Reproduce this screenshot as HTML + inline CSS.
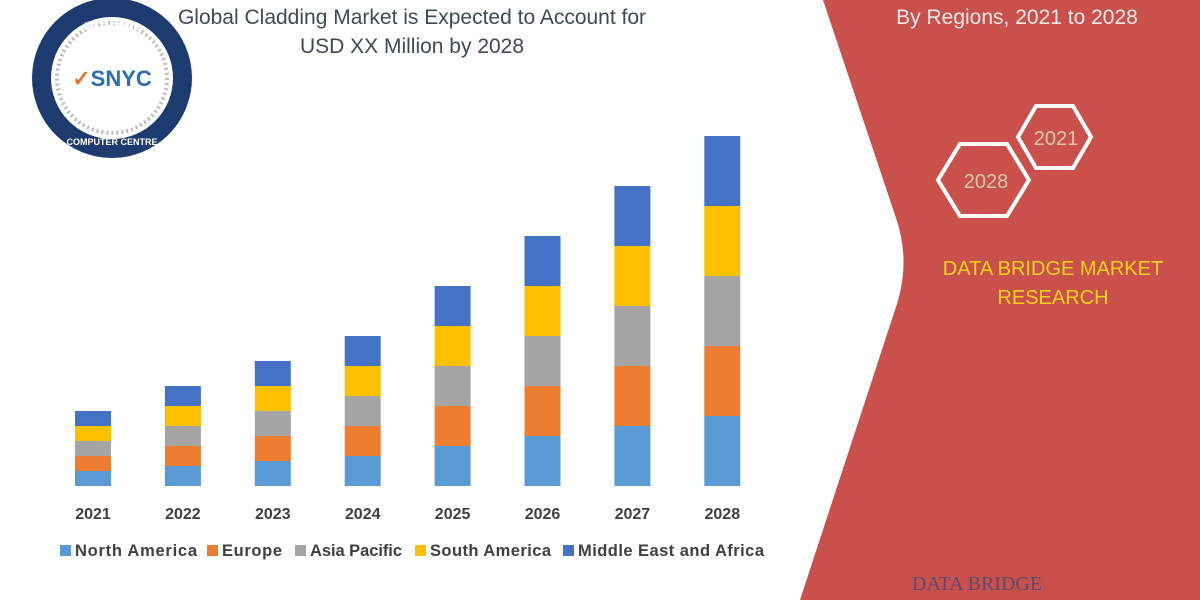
<!DOCTYPE html>
<html><head><meta charset="utf-8"><style>
body{margin:0;width:1200px;height:600px;overflow:hidden;background:#fff;font-family:"Liberation Sans",sans-serif}
svg{display:block}
</style></head><body>
<svg width="1200" height="600" viewBox="0 0 1200 600">
<path d="M823,0 L895,215 Q912,262 895,310 L800,600 L1200,600 L1200,0 Z" fill="#c9504b"/>
<text x="1017" y="24" text-anchor="middle" font-size="21" fill="#f5e9e6">By Regions, 2021 to 2028</text>
<polygon points="1018,137 1036,106 1073,106 1091,137 1073,168 1036,168" fill="none" stroke="#fff" stroke-width="4"/>
<text x="1056" y="145" text-anchor="middle" font-size="20" fill="#d8c7a6">2021</text>
<polygon points="938,180 960,144 1007,144 1029,180 1007,216 960,216" fill="none" stroke="#fff" stroke-width="4"/>
<text x="986" y="188" text-anchor="middle" font-size="20" fill="#d8c7a6">2028</text>
<text x="1053" y="275" text-anchor="middle" font-size="20" fill="#f7d21a">DATA BRIDGE MARKET</text>
<text x="1053" y="304" text-anchor="middle" font-size="20" fill="#f7d21a">RESEARCH</text>
<text x="912" y="590" font-size="20" fill="#5a4a70" font-family="Liberation Serif,serif">DATA BRIDGE</text>
<text x="412" y="24" text-anchor="middle" font-size="21" fill="#3e4a5a">Global Cladding Market is Expected to Account for</text>
<text x="412" y="53" text-anchor="middle" font-size="21" fill="#3e4a5a">USD XX Million by 2028</text>
<g>
<circle cx="112" cy="78" r="80" fill="#1c3b6e"/>
<circle cx="112" cy="78" r="61" fill="#fff"/>
<circle cx="112" cy="78" r="55" fill="none" stroke="#bbb" stroke-width="4" stroke-dasharray="2 3"/>
<text x="112" y="86" text-anchor="middle" font-size="22" font-weight="bold" fill="#e8762a">✓<tspan fill="#2a6fb0">SNYC</tspan></text>
<text x="112" y="30" text-anchor="middle" font-size="11" font-weight="bold" fill="#fff">NATIONAL</text>
<text x="112" y="145" text-anchor="middle" font-size="9" font-weight="bold" fill="#fff">COMPUTER CENTRE</text>
</g>
<g id="bars"></g>
<g id="xlabels"></g>
<g id="legend"></g>
</svg>
<script>
const years=["2021","2022","2023","2024","2025","2026","2027","2028"];
const northAmerica=[15,20,25,30,40,50,60,70];
const europe=[15,20,25,30,40,50,60,70];
const asiaPacific=[15,20,25,30,40,50,60,70];
const southAmerica=[15,20,25,30,40,50,60,70];
const mea=[15,20,25,30,40,50,60,70];
const seriesNames=["North America","Europe","Asia Pacific","South America","Middle East and Africa"];
const colors=["#5b9bd5","#ed7d31","#a5a5a5","#ffc000","#4472c4"];
const series=[northAmerica,europe,asiaPacific,southAmerica,mea];
const NS="http://www.w3.org/2000/svg";
const x0=93,step=89.9,bw=36,base=486,scale=1;
const xPos=i=>x0+i*step;
const yPos=v=>base-v*scale;
const gb=document.getElementById('bars'),gx=document.getElementById('xlabels'),gl=document.getElementById('legend');
years.forEach((yr,i)=>{
  let acc=0;
  series.forEach((s,k)=>{
    const r=document.createElementNS(NS,'rect');
    r.setAttribute('x',xPos(i)-bw/2);r.setAttribute('y',yPos(acc+s[i]));
    r.setAttribute('width',bw);r.setAttribute('height',s[i]*scale);
    r.setAttribute('fill',colors[k]);
    
    
    gb.appendChild(r);acc+=s[i];
  });
  const t=document.createElementNS(NS,'text');
  t.setAttribute('x',xPos(i));t.setAttribute('y',519);t.setAttribute('text-anchor','middle');
  t.setAttribute('font-size','16');t.setAttribute('font-weight','bold');t.setAttribute('fill','#404040');
  t.textContent=yr;
  
  
  gx.appendChild(t);
});
const lx=[60,207,295,415,563];
seriesNames.forEach((n,k)=>{
  const r=document.createElementNS(NS,'rect');
  r.setAttribute('x',lx[k]);r.setAttribute('y',545);r.setAttribute('width',11);r.setAttribute('height',11);r.setAttribute('fill',colors[k]);
  
  
  gl.appendChild(r);
  const t=document.createElementNS(NS,'text');
  t.setAttribute('x',lx[k]+15);t.setAttribute('y',556);t.setAttribute('font-size','16.5');t.setAttribute('font-weight','bold');t.setAttribute('fill','#404040');
  t.setAttribute('textLength',[122,60,92,121,186][k]);
  t.textContent=n;
  
  
  gl.appendChild(t);
});
</script>
</body></html>
